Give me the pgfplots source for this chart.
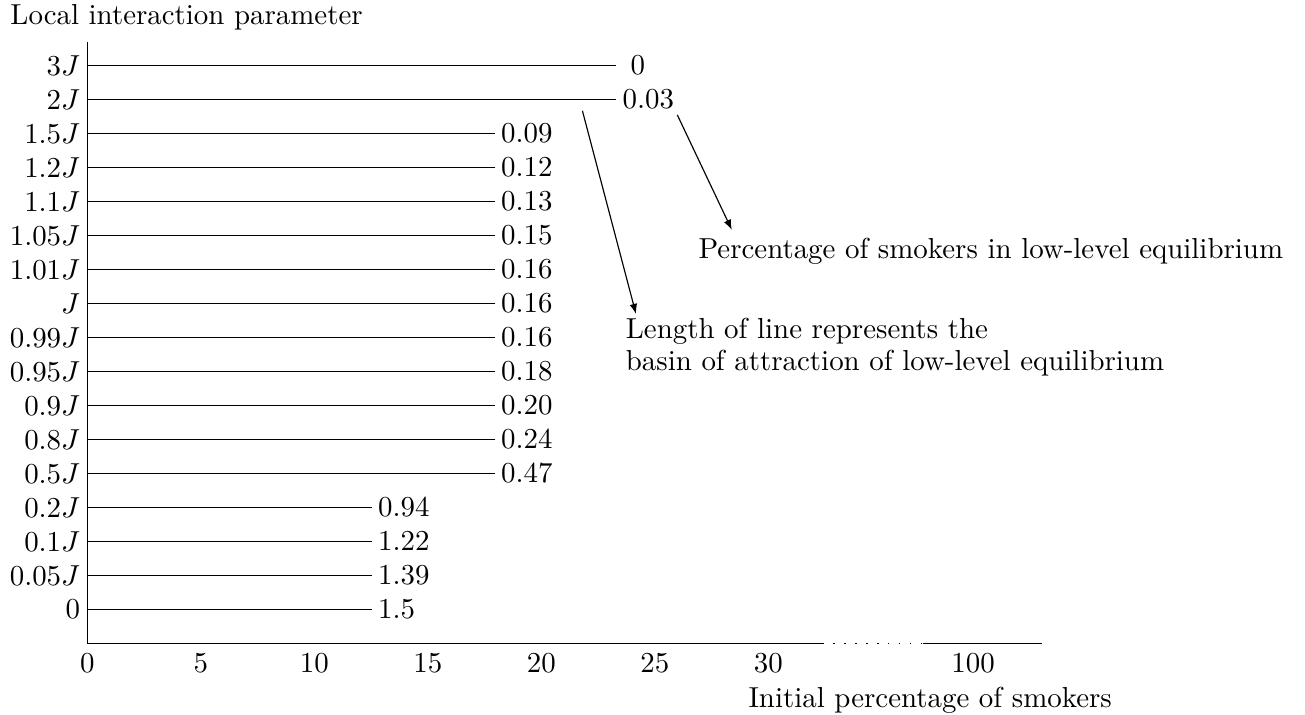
\documentclass[border=0pt]{standalone}
\usepackage{pgfplots}
\pgfplotsset{compat=1.18}
\usetikzlibrary{arrows.meta}

\begin{document}
\begin{tikzpicture}
  \begin{axis}[
      x=7.855pt, y=11.765pt,
      xmin=0, xmax=42.04, ymin=-1, ymax=16.69,
      axis x line*=bottom, axis y line*=left,
      x axis line style={draw=none},
      major tick length=0pt,
      xtick={0,5,10,15,20,25,30,39.02},
      xticklabels={0,5,10,15,20,25,30,100},
      ytick={0,...,16},
      yticklabels={$0$,$0.05J$,$0.1J$,$0.2J$,$0.5J$,$0.8J$,$0.9J$,$0.95J$,
        $0.99J$,$J$,$1.01J$,$1.05J$,$1.1J$,$1.2J$,$1.5J$,$2J$,$3J$},
      yticklabel style={xshift=1pt},
      clip=false,
    ]
    % basin of attraction of the low-level equilibrium, one line per J
    \addplot[black, xcomb, point meta=explicit symbolic,
      nodes near coords,
      nodes near coords style={anchor=west, inner sep=2pt, font=\normalsize}]
      coordinates {
        (23.3,16) [\hspace*{2.8pt}0]
        (23.3,15) [0.03]
        (17.95,14) [0.09]
        (17.95,13) [0.12]
        (17.95,12) [0.13]
        (17.95,11) [0.15]
        (17.95,10) [0.16]
        (17.95,9) [0.16]
        (17.95,8) [0.16]
        (17.95,7) [0.18]
        (17.95,6) [0.20]
        (17.95,5) [0.24]
        (17.95,4) [0.47]
        (12.53,3) [0.94]
        (12.53,2) [1.22]
        (12.53,1) [1.39]
        (12.53,0) [1.5]
      };

    % broken x axis
    \draw (axis cs:0,-1) -- (axis cs:32.37,-1);
    \draw[line width=0.5pt, dash pattern=on 0.5pt off 3.3pt] (axis cs:32.37,-1) -- (axis cs:36.81,-1);
    \draw (axis cs:36.81,-1) -- (axis cs:42.04,-1);

    \node[anchor=base west, inner sep=0pt] at (axis cs:-3.41,17.185) {Local interaction parameter};
    \node[anchor=base west, inner sep=0pt] at (axis cs:29.1,-2.90) {Initial percentage of smokers};

    \draw[-{Latex[length=3.5pt,width=2.6pt]}] (axis cs:25.99,14.54) -- (axis cs:28.39,11.16);
    \node[anchor=base west, inner sep=0pt] at (axis cs:26.9,10.31) {Percentage of smokers in low-level equilibrium};

    \draw[-{Latex[length=3.5pt,width=2.6pt]}] (axis cs:21.81,14.66) -- (axis cs:24.17,8.685);
    \node[anchor=base west, inner sep=0pt] at (axis cs:23.7,7.95) {Length of line represents the};
    \node[anchor=base west, inner sep=0pt] at (axis cs:23.7,7.01) {basin of attraction of low-level equilibrium};

    \coordinate (bbsw) at (axis cs:-3.846,-3.109);
    \coordinate (bbne) at (axis cs:53.64,17.92);
  \end{axis}
  \pgfresetboundingbox
  \path[use as bounding box] (bbsw) rectangle (bbne);
\end{tikzpicture}
\end{document}
